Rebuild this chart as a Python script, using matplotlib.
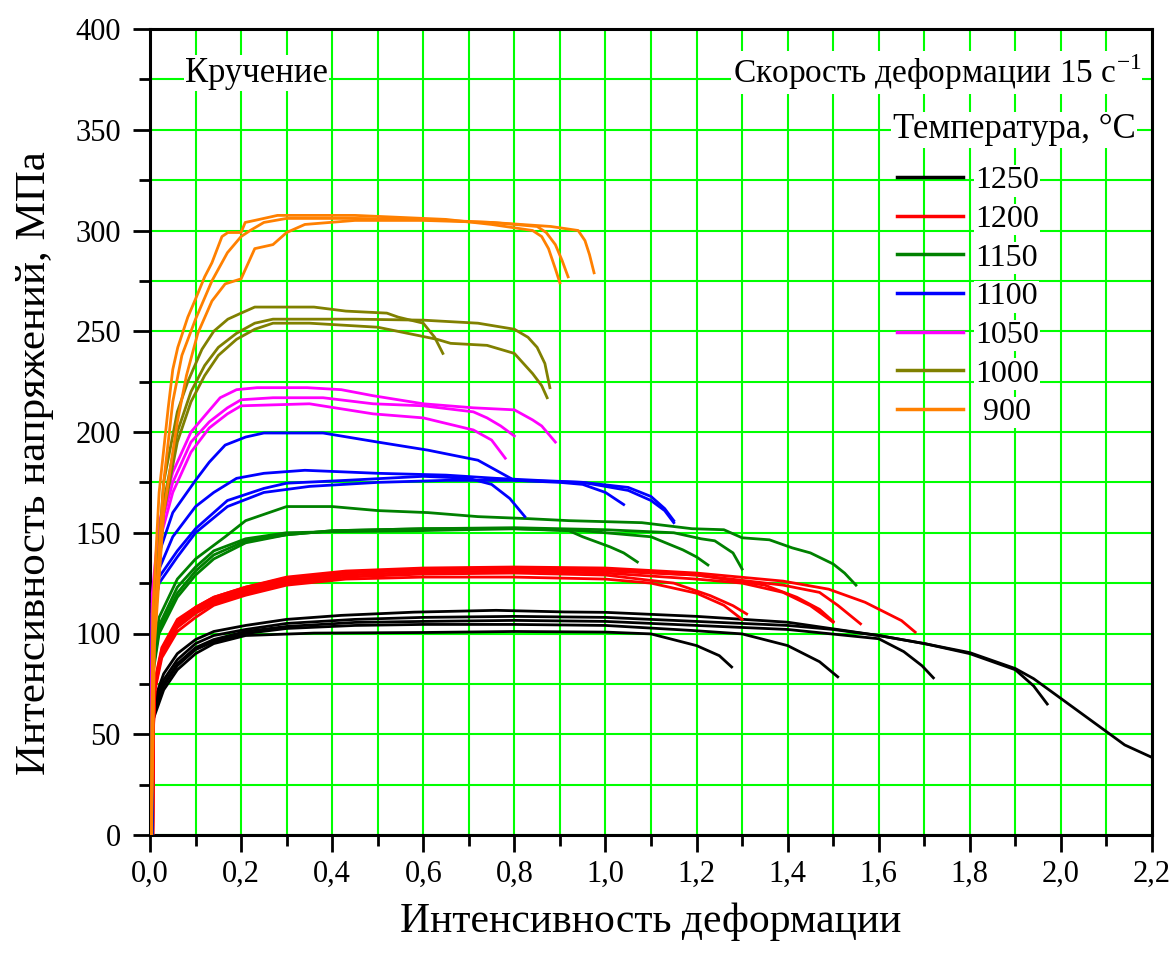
import matplotlib.pyplot as plt
from matplotlib.ticker import MultipleLocator, FuncFormatter

plt.rcParams['font.family'] = ['Liberation Serif', 'DejaVu Serif']
plt.rcParams['mathtext.fontset'] = 'custom'
plt.rcParams['mathtext.rm'] = 'Liberation Serif'

# strain intensity / stress intensity (MPa), several torsion tests per temperature
eps_1250 = [
    [0.004, 0.005, 0.008, 0.03, 0.06, 0.10, 0.14, 0.21, 0.30, 0.42, 0.58, 0.76, 0.91, 1.00, 1.20, 1.40, 1.50, 1.60, 1.70, 1.80, 1.90, 1.94, 1.99, 2.10, 2.14, 2.20],
    [0.004, 0.005, 0.008, 0.03, 0.06, 0.10, 0.14, 0.21, 0.30, 0.45, 0.60, 0.80, 1.00, 1.20, 1.40, 1.50, 1.60, 1.70, 1.80, 1.90, 1.94, 1.97],
    [0.004, 0.005, 0.008, 0.03, 0.06, 0.10, 0.14, 0.21, 0.30, 0.45, 0.60, 0.80, 1.00, 1.20, 1.40, 1.60, 1.655, 1.695, 1.72],
    [0.004, 0.005, 0.008, 0.03, 0.06, 0.10, 0.14, 0.21, 0.30, 0.45, 0.60, 0.80, 1.00, 1.19, 1.30, 1.40, 1.47, 1.51],
    [0.004, 0.005, 0.008, 0.03, 0.06, 0.10, 0.14, 0.21, 0.36, 0.60, 0.80, 1.00, 1.10, 1.20, 1.25, 1.277],
]
sig_1250 = [
    [0, 50, 66, 80, 90, 97, 101, 104, 107, 109, 110.6, 111.5, 110.7, 110.5, 108.5, 105.6, 102.3, 99, 95, 90.5, 82.6, 77.6, 69.4, 51.3, 44.7, 38.5],
    [0, 48, 63, 77, 87, 95, 99, 102, 105, 107, 108, 108.5, 108, 106, 104, 102, 99, 95, 90, 82, 74, 65],
    [0, 47, 62, 75, 85, 93, 97, 101, 103.5, 105.5, 106, 106.5, 106, 104, 102, 97.4, 91, 84, 78],
    [0, 46, 60, 74, 84, 92, 96, 100, 102.5, 104, 104.5, 104.5, 104, 101.5, 99.8, 94, 86, 78.5],
    [0, 45, 58, 72, 82, 90, 95, 99, 100.2, 100.5, 101, 100.7, 99.8, 94, 89, 83.4],
]

eps_1200 = [
    [0.006, 0.008, 0.011, 0.026, 0.06, 0.10, 0.14, 0.21, 0.30, 0.43, 0.60, 0.80, 1.00, 1.20, 1.39, 1.49, 1.57, 1.65, 1.68],
    [0.006, 0.008, 0.011, 0.026, 0.06, 0.10, 0.14, 0.21, 0.30, 0.43, 0.60, 0.80, 1.00, 1.20, 1.39, 1.47, 1.51, 1.56],
    [0.006, 0.008, 0.011, 0.026, 0.06, 0.10, 0.14, 0.21, 0.30, 0.43, 0.60, 0.80, 1.00, 1.20, 1.30, 1.39, 1.45, 1.50],
    [0.006, 0.008, 0.011, 0.026, 0.06, 0.10, 0.14, 0.21, 0.30, 0.43, 0.60, 0.80, 1.00, 1.15, 1.23, 1.28, 1.31],
    [0.006, 0.008, 0.011, 0.026, 0.06, 0.10, 0.14, 0.21, 0.30, 0.43, 0.60, 0.80, 1.00, 1.10, 1.20, 1.26, 1.30],
    [0.006, 0.008, 0.011, 0.026, 0.06, 0.10, 0.14, 0.21, 0.30, 0.43, 0.60, 0.80, 1.00, 1.20, 1.35, 1.42, 1.47, 1.50],
]
sig_1200 = [
    [0, 60, 77, 93, 107, 113, 118, 123, 128, 131, 132.5, 133, 132.5, 130, 126, 122, 115.5, 106.4, 100.7],
    [0, 58, 75, 91, 105, 112, 117, 122, 127, 130, 131.5, 132, 131, 129, 124, 120.4, 114, 104.8],
    [0, 57, 74, 90, 104, 111, 116, 121, 126, 129, 130.5, 131, 130, 127, 125, 120.4, 113.8, 105.6],
    [0, 56, 73, 90, 103, 110, 115, 120, 125, 128, 129.5, 130, 129, 125, 118.8, 113.8, 109.7],
    [0, 55, 72, 88, 101, 108, 114, 119, 124, 127, 128, 128, 127, 125, 120, 114, 107],
    [0, 59, 76, 92, 106, 113, 118, 123, 127.5, 130.5, 132, 132.5, 131.5, 129, 124, 118, 112, 106],
]

eps_1150 = [
    [0.004, 0.005, 0.02, 0.06, 0.10, 0.165, 0.21, 0.30, 0.40, 0.50, 0.61, 0.72, 0.83, 0.92, 1.08, 1.19, 1.26, 1.30, 1.36, 1.41, 1.45, 1.50, 1.525, 1.55],
    [0.004, 0.005, 0.02, 0.06, 0.10, 0.14, 0.21, 0.30, 0.40, 0.58, 0.80, 0.92, 0.95, 1.01, 1.04, 1.07],
    [0.004, 0.005, 0.02, 0.06, 0.10, 0.14, 0.21, 0.30, 0.40, 0.60, 0.80, 0.95, 1.10, 1.17, 1.20, 1.225],
    [0.004, 0.005, 0.02, 0.06, 0.10, 0.14, 0.21, 0.30, 0.40, 0.60, 0.80, 1.00, 1.15, 1.21, 1.24, 1.28, 1.30],
]
sig_1150 = [
    [0, 85, 108, 127, 137, 148, 156, 163, 163, 161, 160, 158, 157, 156, 155, 152, 151.5, 147.5, 146.5, 142.5, 140, 134.5, 130, 124],
    [0, 80, 104, 123, 133, 141, 147, 150, 150.5, 151, 152, 151, 148, 143, 140, 135.5],
    [0, 80, 102, 120, 131, 139, 146, 149, 151, 152, 152, 151, 148, 141.5, 138, 134],
    [0, 78, 100, 118, 129, 137, 145, 149, 151, 152, 152.5, 151.5, 150, 147, 146, 140, 132],
]

eps_1100 = [
    [0.004, 0.005, 0.02, 0.05, 0.10, 0.13, 0.165, 0.21, 0.25, 0.38, 0.50, 0.61, 0.72, 0.76, 0.80, 0.90, 0.95, 1.00, 1.02, 1.04],
    [0.004, 0.005, 0.02, 0.05, 0.10, 0.14, 0.19, 0.25, 0.34, 0.50, 0.65, 0.76, 0.85, 0.95, 1.05, 1.10, 1.13, 1.15],
    [0.004, 0.005, 0.02, 0.06, 0.10, 0.17, 0.25, 0.30, 0.43, 0.60, 0.70, 0.75, 0.79, 0.823],
    [0.004, 0.005, 0.02, 0.06, 0.10, 0.17, 0.25, 0.35, 0.50, 0.65, 0.80, 0.95, 1.05, 1.10, 1.13, 1.15],
]
sig_1100 = [
    [0, 115, 140, 160, 176, 185, 193.5, 197.5, 199.5, 199.5, 195, 191, 186, 181, 176, 175, 174, 170, 167, 164],
    [0, 112, 132, 148, 163, 170, 177, 179.5, 181, 179.5, 178.6, 177, 176, 175, 172.5, 168, 162, 156],
    [0, 110, 128, 141, 152, 166, 172, 174.6, 176, 178, 177, 174, 167, 158],
    [0, 108, 125, 138, 150, 163, 170, 173, 175, 176, 176, 175, 171, 166, 161, 155],
]

eps_1050 = [
    [0.003, 0.005, 0.02, 0.05, 0.09, 0.12, 0.154, 0.19, 0.235, 0.345, 0.42, 0.49, 0.60, 0.71, 0.80, 0.84, 0.86, 0.875, 0.89],
    [0.003, 0.005, 0.02, 0.05, 0.09, 0.13, 0.17, 0.20, 0.27, 0.38, 0.49, 0.60, 0.71, 0.74, 0.77, 0.80],
    [0.003, 0.005, 0.02, 0.05, 0.09, 0.13, 0.17, 0.20, 0.35, 0.49, 0.60, 0.71, 0.75, 0.78],
]
sig_1050 = [
    [0, 120, 155, 180, 200, 208, 217, 221, 222, 222, 221, 218, 214, 212, 211, 206, 203, 199, 195],
    [0, 115, 150, 175, 195, 205, 212, 216, 217, 217, 214, 213, 210, 207, 203, 198],
    [0, 110, 145, 170, 190, 202, 209, 213, 214, 209, 207, 201, 196, 187],
]

eps_1000 = [
    [0.003, 0.006, 0.03, 0.06, 0.083, 0.114, 0.14, 0.171, 0.20, 0.23, 0.30, 0.36, 0.43, 0.52, 0.545, 0.60, 0.625, 0.643],
    [0.003, 0.006, 0.03, 0.06, 0.09, 0.12, 0.15, 0.19, 0.23, 0.27, 0.30, 0.45, 0.60, 0.72, 0.80, 0.83, 0.85, 0.867, 0.878],
    [0.003, 0.006, 0.03, 0.06, 0.09, 0.12, 0.15, 0.19, 0.23, 0.27, 0.35, 0.50, 0.63, 0.66, 0.74, 0.80, 0.84, 0.86, 0.872],
]
sig_1000 = [
    [0, 100, 175, 210, 225, 241, 250, 256, 259, 262, 262, 262, 260, 259, 257, 254, 247, 239],
    [0, 95, 165, 200, 220, 233, 242, 249, 254, 256, 256, 256, 255.5, 254, 251, 247, 242, 234, 222],
    [0, 90, 160, 195, 215, 228, 238, 246, 251, 254, 254, 252, 246, 244, 243, 239, 229, 223, 217],
]

eps_900 = [
    [0.003, 0.006, 0.02, 0.04, 0.05, 0.061, 0.083, 0.10, 0.12, 0.136, 0.158, 0.171, 0.20, 0.209, 0.23, 0.28, 0.45, 0.55, 0.65, 0.75, 0.84, 0.86, 0.875, 0.89, 0.90],
    [0.003, 0.008, 0.03, 0.05, 0.07, 0.10, 0.136, 0.17, 0.20, 0.22, 0.25, 0.30, 0.45, 0.60, 0.75, 0.85, 0.87, 0.89, 0.905, 0.918],
    [0.003, 0.01, 0.03, 0.06, 0.08, 0.105, 0.136, 0.165, 0.20, 0.23, 0.27, 0.30, 0.34, 0.45, 0.60, 0.75, 0.88, 0.94, 0.955, 0.965, 0.975],
]
sig_900 = [
    [0, 110, 170, 212, 231, 242, 257, 266, 277, 284, 297, 299, 299, 304, 305, 307.5, 307.5, 306.5, 305.5, 303, 300, 297, 291, 281, 274],
    [0, 100, 175, 215, 238, 256, 275, 289, 297, 300, 304, 306, 306, 305.5, 304, 302, 299, 293, 285, 277],
    [0, 95, 160, 205, 228, 249, 265, 273.5, 276, 291, 293, 299, 303, 305, 305, 304, 302, 300, 295, 288, 279],
]

temps = ['1250', '1200', '1150', '1100', '1050', '1000', ' 900']
colors = ['#000000', '#ff0000', '#008000', '#0000ff', '#ff00ff', '#808000', '#ff8000']
strains = [eps_1250, eps_1200, eps_1150, eps_1100, eps_1050, eps_1000, eps_900]
stresses = [sig_1250, sig_1200, sig_1150, sig_1100, sig_1050, sig_1000, sig_900]

fig = plt.figure(figsize=(11.76, 9.64), dpi=100)
ax = fig.add_axes([150 / 1176, 1 - 835 / 964, 1002 / 1176, 806 / 964])

for label, color, eps, sig in zip(temps, colors, strains, stresses):
    for i, (x, y) in enumerate(zip(eps, sig)):
        ax.plot(x, y, color=color, lw=2.0, zorder=3,
                label=label if i == 0 else None)

ax.set_xlim(0, 2.2)
ax.set_ylim(0, 400)
ax.xaxis.set_major_locator(MultipleLocator(0.2))
ax.xaxis.set_minor_locator(MultipleLocator(0.1))
ax.yaxis.set_major_locator(MultipleLocator(50))
ax.yaxis.set_minor_locator(MultipleLocator(25))
ax.xaxis.set_major_formatter(FuncFormatter(lambda v, p: f'{v:.1f}'.replace('.', ',')))
ax.grid(which='both', color='#00ff00', lw=1.5)
ax.set_axisbelow(True)

ax.tick_params(which='major', length=12, width=2, labelsize=22)
ax.tick_params(axis='x', which='major', pad=6)
ax.tick_params(axis='y', which='major', pad=9)
ax.tick_params(which='minor', length=8, width=2)
for s in ax.spines.values():
    s.set_linewidth(2.2)

ax.set_xlabel('Интенсивность деформации', fontsize=30)
ax.xaxis.set_label_coords(0.5, -0.108)
ax.xaxis.label.set_verticalalignment('center')
ax.set_ylabel('Интенсивность напряжений, МПа', fontsize=31)
ax.yaxis.set_label_coords(-0.115, 0.462)
ax.yaxis.label.set_verticalalignment('center')

box = dict(facecolor='white', edgecolor='none', pad=1)
ax.text(0.077, 378, 'Кручение', fontsize=25, ha='left', va='center', bbox=box)
ax.text(2.176, 378.5, r'Скорость деформации 15 с$^{\mathrm{-1}}$', fontsize=24,
        ha='right', va='center', bbox=box)
ax.text(1.631, 350, 'Температура, °С', fontsize=25, ha='left', va='center', bbox=box)

leg = ax.legend(loc='upper left', bbox_to_anchor=(0.7455, 0.830),
                frameon=False, fontsize=23, handlelength=2.07,
                handletextpad=0.38, labelspacing=0.29, borderpad=0, borderaxespad=0)
for t in leg.get_texts():
    t.set_bbox(box)
for ln in leg.get_lines():
    ln.set_linewidth(2.5)

fig.savefig('out.png', dpi=100)
